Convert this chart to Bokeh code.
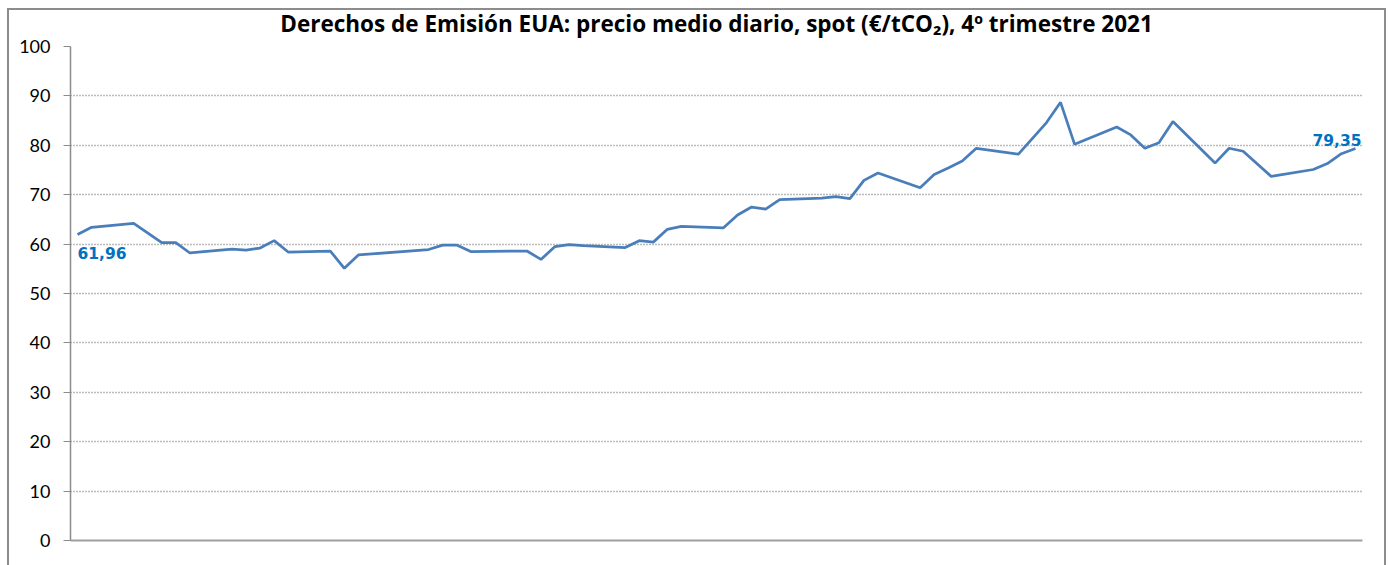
from bokeh.plotting import figure
from bokeh.models import Range1d, FixedTicker, Label, Div
from bokeh.layouts import column
from bokeh.embed import file_html
from bokeh.resources import INLINE

# Día de negociación (0 = primer dato del trimestre)
dias = [0, 1, 4, 6, 7, 8, 11, 12, 13, 14, 15, 18, 19, 20, 25, 26, 27, 28,
        32, 33, 34, 35, 36, 39, 40, 41, 42, 43, 46, 47, 48, 49, 50, 53, 54,
        55, 56, 57, 60, 61, 62, 63, 64, 67, 69, 70, 71, 74, 75, 76, 77, 78,
        81, 82, 83, 85, 88, 89, 90, 91]
# Precio medio diario spot EUA (€/tCO2)
precios = [61.96, 63.4, 64.2, 60.3, 60.3, 58.2, 59.0, 58.8, 59.2, 60.7, 58.4,
           58.6, 55.1, 57.8, 58.9, 59.8, 59.8, 58.5, 58.6, 56.9, 59.5, 59.9,
           59.7, 59.3, 60.7, 60.4, 63.0, 63.6, 63.3, 65.9, 67.5, 67.1, 69.0,
           69.3, 69.6, 69.2, 72.9, 74.4, 71.4, 74.1, 75.4, 76.8, 79.4, 78.2,
           84.6, 88.7, 80.2, 83.7, 82.1, 79.4, 80.5, 84.8, 76.4, 79.4, 78.8,
           73.7, 75.1, 76.3, 78.3, 79.35]
y_ticks = [0, 10, 20, 30, 40, 50, 60, 70, 80, 90, 100]
titulo = "Derechos de Emisión EUA: precio medio diario, spot (€/tCO\u2082), 4º trimestre 2021"

p = figure(width=1391, height=567, output_backend="svg", toolbar_location=None,
           x_range=Range1d(-0.5, 91.5), y_range=Range1d(0, 100),
           min_border_left=70, min_border_right=29, min_border_top=48,
           min_border_bottom=25)
p.styles = {"margin-top": "-2px"}
p.outline_line_color = None
p.background_fill_color = "white"
p.border_fill_color = "white"

p.title.text = titulo
p.title.text_font = "Open Sans"
p.title.text_font_style = "bold"
p.title.text_font_size = "22.5px"
p.title.align = "center"
p.title.text_color = "black"
p.title.standoff = 15

p.xgrid.visible = False
p.ygrid.ticker = FixedTicker(ticks=y_ticks)
p.ygrid.grid_line_color = "#777777"
p.ygrid.grid_line_dash = "1 2"
p.ygrid.grid_line_width = 1.3

p.yaxis.ticker = FixedTicker(ticks=y_ticks)
p.yaxis.axis_line_color = "#8c8c8c"
p.yaxis.axis_line_width = 1.5
p.yaxis.major_tick_line_color = "#8c8c8c"
p.yaxis.major_tick_out = 7
p.yaxis.major_tick_in = 0
p.yaxis.minor_tick_line_color = None
p.yaxis.major_label_text_font = "Lato"
p.yaxis.major_label_text_font_size = "18px"
p.yaxis.major_label_text_color = "black"
p.yaxis.major_label_standoff = 13

p.xaxis.ticker = FixedTicker(ticks=[])
p.xaxis.axis_line_color = "#a0a0a0"
p.xaxis.axis_line_width = 2
p.xaxis.major_tick_line_color = None
p.xaxis.minor_tick_line_color = None
p.xaxis.major_label_text_font_size = "0px"

p.line(dias, precios, line_color="#4a7ebb", line_width=2.75)

# Etiquetas de primer y último valor
def fmt(v):
    return f"{v:.2f}".replace(".", ",")

lab_ini = Label(x=dias[0], y=precios[0], text=fmt(precios[0]),
                text_align="left", text_baseline="top", y_offset=-13,
                text_color="#0070c0", text_font="DejaVu Sans",
                text_font_style="bold", text_font_size="15.5px")
lab_fin = Label(x=dias[-1], y=precios[-1], text=fmt(precios[-1]),
                text_align="right", text_baseline="alphabetic",
                x_offset=6, y_offset=9,
                text_color="#0070c0", text_font="DejaVu Sans",
                text_font_style="bold", text_font_size="15.5px")
p.add_layout(lab_ini)
p.add_layout(lab_fin)

# Marco exterior del gráfico
marco = Div(text="", width=1379, height=558,
            styles={"position": "absolute", "left": "2px", "top": "3px",
                    "border-left": "2px solid #8c8c8c",
                    "border-top": "2px solid #8c8c8c",
                    "border-right": "2px solid #8c8c8c",
                    "pointer-events": "none", "z-index": "10"})

layout = column(p, marco, spacing=0)

open("out.html", "w").write(file_html(layout, INLINE))
